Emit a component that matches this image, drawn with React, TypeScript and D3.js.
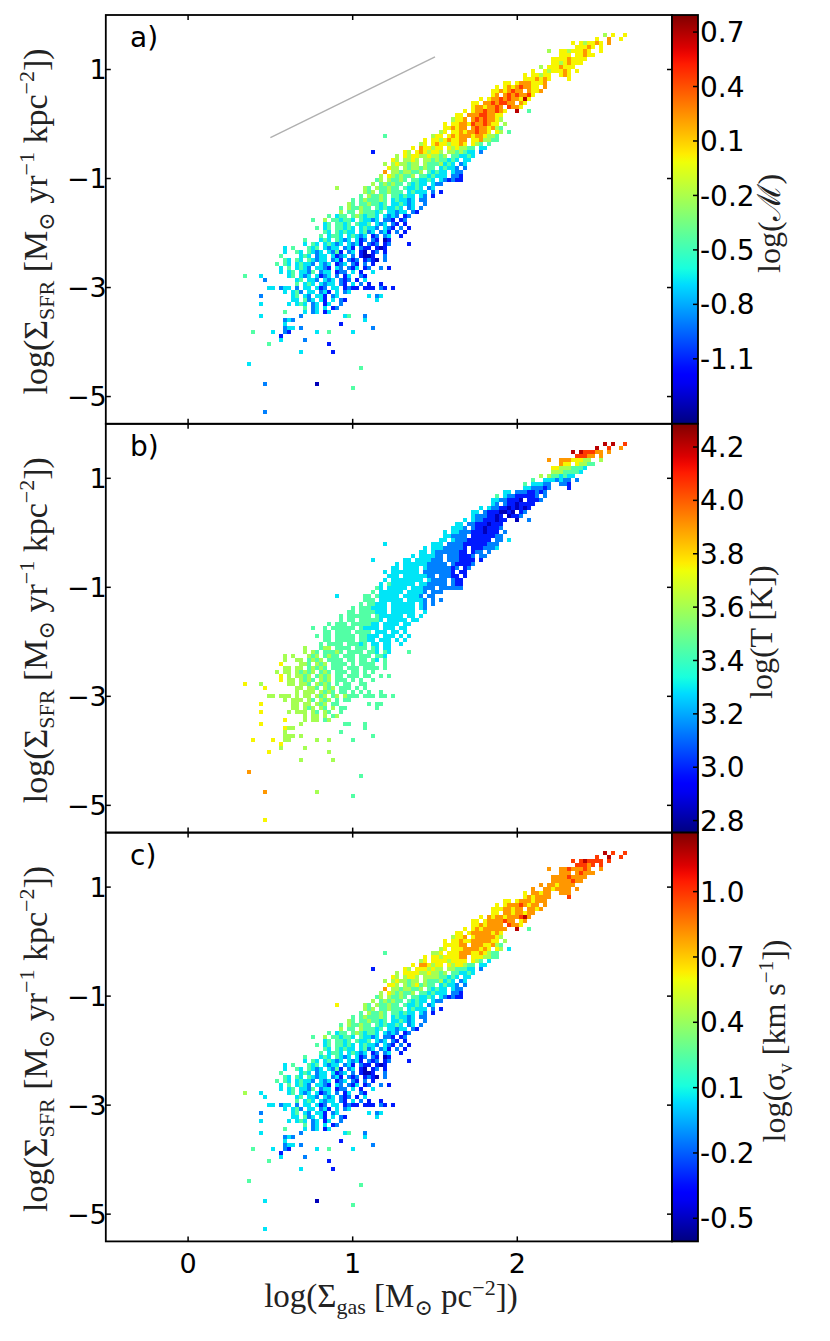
import React from 'react';
import * as d3 from 'd3';

// ---- binning of the Kennicutt-Schmidt map (same bins in all three panels) ----
const X0 = 0.3465; // centre of column 0 in log(Sigma_gas)
const DX = 0.0243; // column width
const Y0 = -3; // centre of row k = 0 (the log Sigma_SFR = -3 floor)
const DY = 0.0734; // row height
const K_TOP = 63; // first row below is k = 63, then k decreases by one per row

// first filled column of every row (k = 63 ... -31)
const rowStart = [
    90, 88, 82, 83, 76, 79, 77, 77, 74, 72, 70, 70, 65, 63, 62, 62, 59, 57, 57, 55,
    53, 52, 50, 50, 49, 35, 45, 44, 42, 32, 38, 37, 35, 36, 35, 34, 33, 32, 23, 30,
    29, 27, 26, 24, 24, 21, 17, 20, 18, 20, 19, 15, 15, 10, 10, 9, 10, 8, 9, 9,
    0, 5, 13, 6, 10, 4, 12, 4, 15, 10, 4, 10, 10, 10, 2, 9, 9, 6, 0, 14,
    0, 0, 1, 29, 0, 0, 0, 5, 27, 0, 0, 0, 0, 0, 5,
];

// colour level of every cell, 0 (bottom of the colour bar) ... 9 (top), '.' = empty
const mixA = [
    '5.6..6', '6..7..6', '6.656676.7', '66676.6', '5..66566676..6',
    '666.66766', '666676666', '66567666', '5.6667666', '6..6566676.6',
    '6.66566..676', '6667676....6', '66.67776667', '6.676787766.7', '66767877.7667',
    '67.78787786', '6.67787877696', '66.77878877.76', '67767787.8776', '6.677877876..9..4',
    '66.777887766', '5667.78787765', '6.667768778766.5', '667677.78776754', '56.6676778776.65.4',
    '4...........566.6767776776554', '6.665676677.6675544', '56.676656676.654.4', '6.766566.6565544.33', '1.......65.6765665.5545433.2',
    '5.65665565545.443343', '65.5565.554544343.33', '5.5655455.54445343.23', '655.54554544.34332.2', '7.55455445.43433.322',
    '5.6545445.4434333.221', '45.54454.443343.321211', '5.454544.43433.322', '5......54.544544.43343.23', '545.445444.34333.2.1',
    '4.54454.443433.32.1', '4.4544454.343323.22', '54.4454434.334323..2', '4.544544.4343343.23.2', '5.44.544434.33233.21',
    '4.344.4543443.3232.12', '4..5.443443.43323.221.12', '34.4434.4334.323.21.1', '4.34.44343.34332.321.2.1', '43.43433.3423.231.2.1',
    '4.3443.34323.12.23..1', '4...343.4323.312.21.01', '3.43.34323.3231.212.12....1', '3.4...434.3233.231.211.101', '3..43.4323.3241.23.10.12.1',
    '4....343.233.3123.2.1001..2', '43.43.43233.231.212.1210.2', '4.43.34332.323.123.21.2.1', '3.4.3432.3321.32.213.12..2.1', '3.34.3324.233.122.3.1..3',
    '4...3......34.323.3123.2.13..21', '2.......34.332.323.212.1.3', '4.343.3233.21.3.2.1..1', '33.233.2.33.312.33.1211.111.21.1', '3.342.33.231.3.23',
    '2.......34.32.331.23.......3.23', '33.423.31.3.21.......3', '3......3.343.23.13..2', '4.23.3.12', '4....3.23.13',
    '3.........2..........34...2', '232.................3', '3.............1', '233.2.................2', '4....3..21......3..4.....3',
    '1', '3.....2', '4..............1', '', '3.......1',
    '', '', '3', '4', '',
    '', '', '2............0', '4', '',
    '', '', '', '', '2',
];

const tempB = [
    '9.9..8', '9..8..7', '9.988877.7', '88877.7', '7..77766655..5',
    '766.65544', '665554443', '55544443', '5.5443433', '4..3332322.2',
    '4.33322..221', '3322212....1', '33.22211212', '4.322111112.2', '33221110.1112',
    '32.21101111', '3.32211010101', '33.21110010.12', '32221101.0112', '3.322111011..0..2',
    '33.221110111', '3332.21101112', '3.332221110111.2', '332222.11111122', '33.3222111111.22.3',
    '3...........333.2222111111222', '3.333222221.1112223', '33.322222211.122.2', '3.333322.2221112.22', '3.......33.3333222.2221111.1',
    '3.33333322222.211112', '33.3333.322222212.12', '3.3333333.22222221.11', '333.33333322.22211.1', '3.33333333.32222.211',
    '3.4333333.3322222.211', '43.33333.333222.222222', '4.333333.33332.222', '3......44.433333.33332.22', '444.333333.33332.2.2',
    '4.44333.333333.32.2', '4.4443333.333333.32', '44.4444333.333333..3', '4.444444.4333333.33.3', '4.44.444443.33333.33',
    '4.444.4444433.3333.33', '4..4.444444.43333.333.33', '44.4444.4444.333.33.3', '4.44.44444.44333.333.3.3', '44.44444.4433.333.3.3',
    '4.4444.44434.33.33..3', '5...455.4444.444.43.33', '5.54.44454.4444.443.43....4', '5.5...545.4544.444.444.443', '5..55.4545.4444.44.44.43.4',
    '6....554.545.4444.4.4444..4', '55.55.45454.444.444.4444.4', '5.55.54545.454.444.44.4.4', '6.5.5545.4545.44.444.44..4.4', '6.55.5454.545.444.4.4..4',
    '6...5......55.554.5454.4.44..44', '6.......55.554.545.444.4.4', '5.555.5454.44.4.4.4..4', '55.555.5.55.545.45.5444.444.44.4', '5.555.54.545.4.44',
    '6.......55.55.545.44.......4.44', '55.545.54.5.44.......4', '6......5.555.54.54..4', '5.55.5.45', '6....5.55.45',
    '6.........5..........44...4', '655.................4', '5.............4', '555.5.................4', '6....6..55......5..5.....4',
    '6', '5.....5', '6..............5', '', '5.......5',
    '', '', '7', '4', '',
    '', '', '7............5', '4', '',
    '', '', '', '', '6',
];

const sigmaC = [
    '9.8..8', '8..9..8', '8.898888.8', '88878.8', '7..77877787..7',
    '777.78777', '777787777', '77777877', '7.7767777', '7..7767777.7',
    '6.77677..777', '6767777....8', '66.67776777', '6.677787677.7', '66677677.7767',
    '66.77677677', '6.76776777897', '66.67777877.67', '66767777.8776', '6.676777777..9..4',
    '66.677777676', '5667.67777765', '6.667667777766.5', '666677.77766754', '56.6667777676.65.3',
    '4...........556.6667776676544', '6.665666677.6665544', '56.666656666.654.3', '6.776566.6566544.33', '1.......65.6665655.5544433.2',
    '5.66665565545.443343', '65.5665.555544343.33', '5.5655455.54445343.23', '665.54564544.34332.2', '7.55455445.43433.322',
    '5.6545445.4434333.221', '45.54454.443343.321211', '5.454544.43433.322', '6......54.544544.43343.23', '545.445444.34333.2.1',
    '4.54454.443433.32.1', '4.4544454.343323.22', '54.4454434.334323..2', '4.544544.4343343.23.2', '5.44.544434.33233.21',
    '4.344.4543443.3232.12', '4..5.443443.43323.221.12', '34.4434.4334.323.21.1', '4.34.44343.34332.321.2.1', '43.43433.3423.231.2.1',
    '4.3443.34323.12.23..1', '4...343.4323.312.21.01', '3.43.34323.3231.212.12....1', '3.4...434.3233.231.211.101', '3..43.4323.3241.23.10.12.1',
    '4....343.233.3123.2.1001..2', '43.43.43233.231.212.1210.2', '4.43.34332.323.123.21.2.1', '3.4.3432.3321.32.213.12..2.1', '3.34.3324.233.122.3.1..3',
    '5...3......34.323.3123.2.13..21', '3.......34.332.323.212.1.3', '4.343.3233.21.3.2.1..1', '33.233.2.33.312.33.1211.111.21.1', '3.342.33.231.3.23',
    '2.......34.32.331.23.......3.23', '33.423.31.3.21.......3', '3......3.343.23.13..2', '4.23.3.12', '4....3.23.13',
    '3.........2..........34...2', '232.................3', '3.............1', '233.2.................2', '4....3..21......3..4.....3',
    '1', '3.....2', '4..............1', '', '3.......1',
    '', '', '4', '4', '',
    '', '', '3............0', '4', '',
    '', '', '', '', '3',
];

// ---- axes and colour bars ----
const xTicks = [0, 1, 2];
const yTicks = [1, -1, -3, -5];
const cbTicksA = [0.7, 0.4, 0.1, -0.2, -0.5, -0.8, -1.1];
const cbTicksB = [4.2, 4.0, 3.8, 3.6, 3.4, 3.2, 3.0, 2.8];
const cbTicksC = [1.0, 0.7, 0.4, 0.1, -0.2, -0.5];
const cbDomainA: [number, number] = [-1.458, 0.794];
const cbDomainB: [number, number] = [2.755, 4.287];
const cbDomainC: [number, number] = [-0.606, 1.271];
const ksLine = [[0.5, -0.25], [1.5, 1.23]];

// matplotlib "jet"
const jetR = d3.scaleLinear([0, 0.35, 0.66, 0.89, 1], [0, 0, 1, 1, 0.5]).clamp(true);
const jetG = d3.scaleLinear([0, 0.125, 0.375, 0.64, 0.91, 1], [0, 0, 1, 1, 0, 0]).clamp(true);
const jetB = d3.scaleLinear([0, 0.11, 0.34, 0.65, 1], [0.5, 1, 1, 0, 0]).clamp(true);
const jet = (t: number) => d3.rgb(jetR(t) * 255, jetG(t) * 255, jetB(t) * 255).formatHex();

const W = 830;
const H = 1341;
const LEFT = 105.8;
const RIGHT = 672;
const TOP = 15;
const PH = 408.8;
const CBW = 26;

const SANS = 'DejaVu Sans';
const SERIF = 'Liberation Serif, DejaVu Serif, serif';

const x = d3.scaleLinear().domain([-0.5, 2.94]).range([LEFT, RIGHT]);

const Panel = ({ idx, rows, letter, cbDomain, cbTicks, cbLabel }: any) => {
    const top = TOP + idx * PH;
    const y = d3.scaleLinear().domain([-5.5, 2.0]).range([top + PH, top]);
    const cb = d3.scaleLinear().domain(cbDomain).range([top + PH, top]);
    const cells: JSX.Element[] = [];
    rows.forEach((s: string, r: number) => {
        const k = K_TOP - r;
        const yc = Y0 + k * DY;
        for (let j = 0; j < s.length; j++) {
            const ch = s[j];
            if (ch === '.') continue;
            const xc = X0 + (rowStart[r] + j) * DX;
            const x1 = x(xc - DX / 2);
            const x2 = x(xc + DX / 2);
            const y1 = y(yc + DY / 2);
            const y2 = y(yc - DY / 2);
            cells.push(
                <rect key={`${r}-${j}`} x={x1} y={y1} width={x2 - x1} height={y2 - y1}
                    fill={jet((+ch + 0.5) / 10)} />
            );
        }
    });
    const gid = `jet${idx}`;
    return (
        <g>
            <defs>
                <linearGradient id={gid} x1="0" y1="1" x2="0" y2="0">
                    {d3.range(0, 1.0001, 0.02).map(t => (
                        <stop key={t} offset={t} stopColor={jet(t)} />
                    ))}
                </linearGradient>
            </defs>
            <g shapeRendering="crispEdges">{cells}</g>
            {idx === 0 && (
                <line x1={x(ksLine[0][0])} y1={y(ksLine[0][1])} x2={x(ksLine[1][0])} y2={y(ksLine[1][1])}
                    stroke="#b0b0b0" strokeWidth={1.4} />
            )}
            {xTicks.map(t => (
                <g key={t} stroke="#000" strokeWidth={1.5}>
                    <line x1={x(t)} x2={x(t)} y1={top + PH} y2={top + PH - 5} />
                    <line x1={x(t)} x2={x(t)} y1={top} y2={top + 5} />
                </g>
            ))}
            {yTicks.map(t => (
                <g key={t}>
                    <line x1={LEFT} x2={LEFT + 5} y1={y(t)} y2={y(t)} stroke="#000" strokeWidth={1.5} />
                    <line x1={RIGHT} x2={RIGHT - 5} y1={y(t)} y2={y(t)} stroke="#000" strokeWidth={1.5} />
                    <text x={LEFT + 1} y={y(t)} dy="0.36em" textAnchor="end" fontFamily={SANS} fontSize={27}>
                        {t < 0 ? `\u2212${-t}` : `${t}`}
                    </text>
                </g>
            ))}
            <rect x={LEFT} y={top} width={RIGHT - LEFT} height={PH} fill="none" stroke="#000" strokeWidth={1.8} />
            <text x={130} y={top + 32} fontFamily={SANS} fontSize={28}>{letter}</text>
            <rect x={RIGHT} y={top} width={CBW} height={PH} fill={`url(#${gid})`} stroke="#000" strokeWidth={1.8} />
            {cbTicks.map((t: number) => (
                <g key={t}>
                    <line x1={RIGHT + CBW} x2={RIGHT + CBW - 5} y1={cb(t)} y2={cb(t)} stroke="#000" strokeWidth={1.5} />
                    <text x={RIGHT + CBW + 2} y={cb(t)} dy="0.36em" fontFamily={SANS} fontSize={28}>
                        {t.toFixed(1)}
                    </text>
                </g>
            ))}
            <text transform={`translate(${cbLabel.x},${top + PH / 2 + cbLabel.dy}) rotate(-90)`} textAnchor="middle"
                fontFamily={SERIF} fontSize={32} fill="#222">
                {cbLabel.node}
            </text>
            <text transform={`translate(47,${top + PH / 2 + 2}) rotate(-90)`} textAnchor="middle"
                fontFamily={SERIF} fontSize={34} fill="#222">
                log(Σ<tspan fontSize={22} dy={7}>SFR</tspan>
                <tspan dy={-7}> [M</tspan><tspan fontSize={22} dy={7}>⊙</tspan>
                <tspan dy={-7}> yr</tspan><tspan fontSize={22} dy={-13}>−1</tspan>
                <tspan dy={13}> kpc</tspan><tspan fontSize={22} dy={-13}>−2</tspan>
                <tspan dy={13}>])</tspan>
            </text>
        </g>
    );
};

const App: React.FC = () => {
    const bottom = TOP + 3 * PH;
    return (
        <svg width={W} height={H} style={{ position: 'absolute', left: 0, top: 0, background: '#fff' }}>
            <rect width={W} height={H} fill="#fff" />
            <Panel idx={0} rows={mixA} letter="a)" cbDomain={cbDomainA} cbTicks={cbTicksA}
                cbLabel={{ x: 780, dy: 4, node: <>log(ℳ)</> }} />
            <Panel idx={1} rows={tempB} letter="b)" cbDomain={cbDomainB} cbTicks={cbTicksB}
                cbLabel={{ x: 772, dy: 4, node: <>log(T [K])</> }} />
            <Panel idx={2} rows={sigmaC} letter="c)" cbDomain={cbDomainC} cbTicks={cbTicksC}
                cbLabel={{
                    x: 785, dy: 4, node: (
                        <>
                            log(σ<tspan fontSize={21} dy={7}>v</tspan>
                            <tspan dy={-7}> [km s</tspan><tspan fontSize={21} dy={-12}>−1</tspan>
                            <tspan dy={12}>])</tspan>
                        </>
                    ),
                }} />
            {xTicks.map(t => (
                <text key={t} x={x(t)} y={bottom + 32} textAnchor="middle" fontFamily={SANS} fontSize={27}>
                    {t}
                </text>
            ))}
            <text x={(LEFT + RIGHT) / 2 + 2} y={1307} textAnchor="middle" fontFamily={SERIF} fontSize={33} fill="#222">
                log(Σ<tspan fontSize={22} dy={7}>gas</tspan>
                <tspan dy={-7}> [M</tspan><tspan fontSize={22} dy={8}>⊙</tspan>
                <tspan dy={-8}> pc</tspan><tspan fontSize={22} dy={-12}>−2</tspan>
                <tspan dy={12}>])</tspan>
            </text>
        </svg>
    );
};

export default App;
